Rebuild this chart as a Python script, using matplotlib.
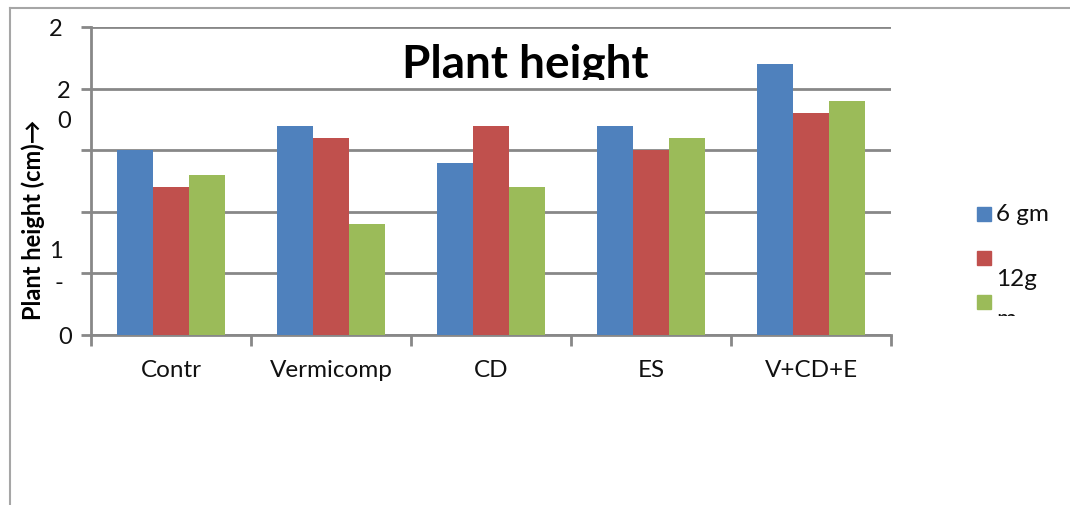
import numpy as np
import matplotlib.pyplot as plt
from matplotlib.patches import Rectangle
from matplotlib.lines import Line2D
from matplotlib.transforms import Bbox

categories = ['Contr', 'Vermicomp', 'CD', 'ES', 'V+CD+E']
series_names = ['6 gm', '12g', 'm']
values_6gm = [15, 17, 14, 17, 22]
values_12gm = [12, 16, 17, 15, 18]
values_18gm = [13, 9, 12, 16, 19]
colors = ['#4f81bd', '#c0504d', '#9bbb59']

W, H = 1070, 505
GRID = '#888888'
FONT = 'Lato'


# pixel (from top-left) -> figure fraction
def px(x, y):
    return x / W, 1 - y / H


fig = plt.figure(figsize=(W / 100, H / 100), dpi=100)
plt.rcParams['font.family'] = [FONT, 'DejaVu Sans']

# clipped outer chart frame
fig.add_artist(Line2D([10 / W, 1], [1 - 8 / H] * 2, color='#a6a6a6', lw=1.5))
fig.add_artist(Line2D([10 / W] * 2, [0, 1 - 8 / H], color='#a6a6a6', lw=1.5))

ax = fig.add_axes([91 / W, 1 - 335 / H, 800 / W, 308 / H])
x = np.arange(len(categories))
width = 0.225
for i, vals in enumerate([values_6gm, values_12gm, values_18gm]):
    ax.bar(x + (i - 1) * width, vals, width, color=colors[i], zorder=3)

ax.set_xlim(-0.5, len(categories) - 0.5)
ax.set_ylim(0, 25)
ax.set_yticks(range(0, 26, 5))
ax.set_yticklabels([])
ax.grid(axis='y', color=GRID, lw=2)
ax.set_xticks(np.arange(-0.5, len(categories), 1.0))
ax.set_xticklabels([])
ax.tick_params(axis='x', direction='out', length=8, width=2, color=GRID)
ax.tick_params(axis='y', direction='out', length=7, width=2, color=GRID)
for s in ['top', 'right']:
    ax.spines[s].set_visible(False)
for s in ['left', 'bottom']:
    ax.spines[s].set_color(GRID)
    ax.spines[s].set_linewidth(2)

for xi, c in zip(x, categories):
    ax.text(xi, -0.115, c, transform=ax.get_xaxis_transform(), ha='center',
            va='center', fontsize=17.5, color='#111111')

# wrapped / clipped axis labels as they appear in the source
for tx, ty, t in [(56, 30, '2'), (64, 92, '2'), (64, 121, '0'),
                  (56, 252, '1'), (59, 283, '-'), (65, 338, '0')]:
    fig.text(*px(tx, ty), t, ha='center', va='center', fontsize=17,
             color='#111111')

fig.text(*px(33, 220), 'Plant height (cm)\u2192', rotation=90, ha='center',
         va='center', fontsize=17, fontweight='bold')

title = fig.text(*px(525, 77), 'Plant height', ha='center', va='baseline',
                 fontsize=33, fontweight='bold')
title.set_clip_box(Bbox([[0, H - 80], [W, H - 27]]))
title.set_clip_on(True)

# legend, wrapped and clipped
legend_rows = [(207, 215), (251, 279), (295, 319)]
for (sq_y, ty), name, col in zip(legend_rows, series_names, colors):
    fig.add_artist(Rectangle(px(977, sq_y + 14), 14 / W, 14 / H,
                             color=col, transform=fig.transFigure))
    t = fig.text(*px(996, ty), name, ha='left', va='center', fontsize=17.5,
                 color='#111111')
    if name == 'm':
        t.set_clip_box(Bbox([[0, H - 316], [W, H]]))
        t.set_clip_on(True)

fig.savefig('out.png', dpi=100)
